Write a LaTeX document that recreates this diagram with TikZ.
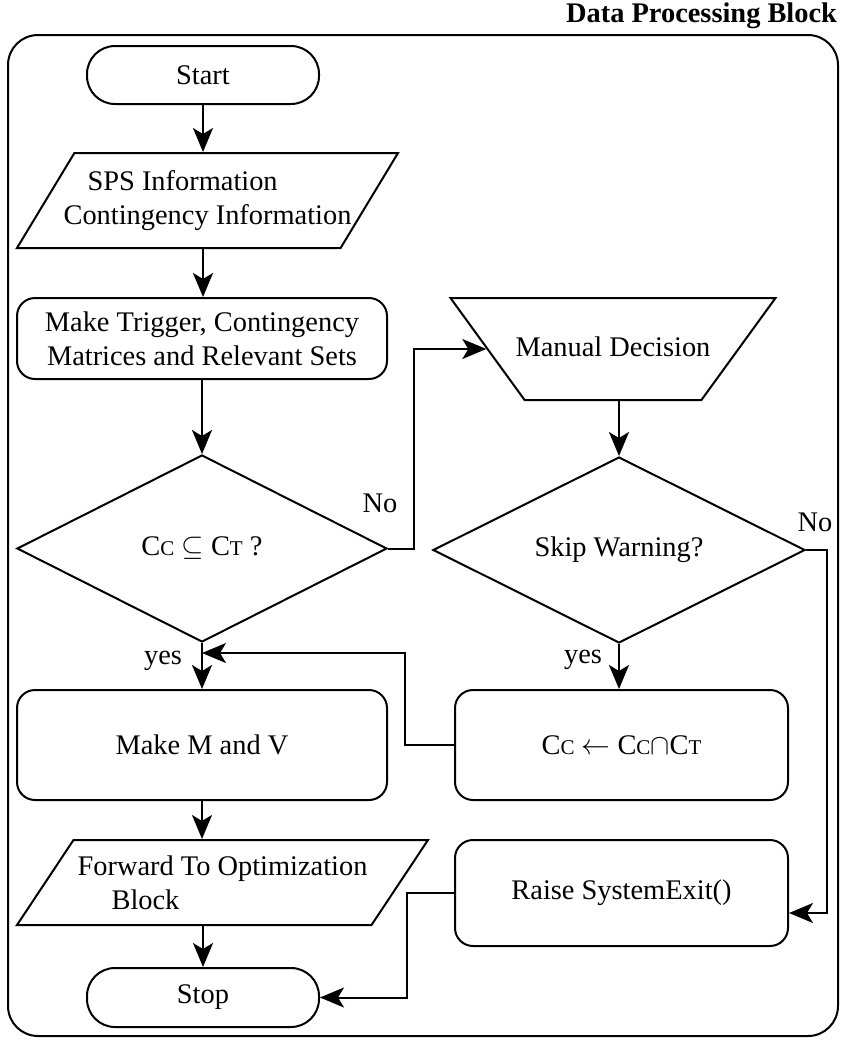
\documentclass[tikz,border=0pt]{standalone}
\usepackage{fontspec}
\setmainfont{Liberation Serif}
\usetikzlibrary{arrows.meta,positioning,shapes.geometric,calc}
\newcommand{\cset}[1]{C{\fontsize{10.5}{12}\selectfont #1}}

\begin{document}
\begin{tikzpicture}[x=0.5pt, y=-0.5pt, line width=1pt,
  every node/.style={font=\fontsize{14.2}{17}\selectfont},
  termbox/.style={draw, rounded corners=14pt, minimum width=116pt, minimum height=29pt},
  procbox/.style={draw, rounded corners=9pt, minimum width=185pt, minimum height=55pt, align=center},
  iobox/.style={draw, trapezium, trapezium stretches body=true, trapezium left angle=52, trapezium right angle=128, align=left},
  decbox/.style={draw, diamond, aspect=2, inner sep=1pt, minimum width=185pt, minimum height=93.5pt},
  arr/.style={-{Stealth[length=12pt,width=10pt,inset=3pt]}}]
  \useasboundingbox (0,0) rectangle (844,1041);

  % Block frame and title
  \draw[rounded corners=15pt] (8,35) rectangle (838,1036);
  \node[font=\fontsize{14.2}{17}\selectfont\bfseries, anchor=base east, inner sep=0pt] (title) at (838,22) {Data Processing Block};

  % Left column
  \node[termbox] (start) at (203,75) {Start};
  \node[iobox, inner xsep=-15pt, minimum width=190.5pt, minimum height=47.5pt] (info) at (207.5,200.5) {\hspace*{12pt}SPS Information\\Contingency Information};
  \node[procbox, minimum height=40.5pt] (mats) at (202,338.5) {Make Trigger, Contingency\\Matrices and Relevant Sets};
  \node[decbox] (subset) at (202,548.5) {\cset{C} $\subseteq$ \cset{T} ?};
  \node[procbox] (makemv) at (202,745) {Make M and V};
  \node[iobox, trapezium left angle=50, trapezium right angle=130, inner xsep=-13pt, minimum width=205.5pt, minimum height=42.5pt] (fwd) at (222.5,882.5) {Forward To Optimization\\\hspace*{17pt}Block};
  \node[termbox, minimum height=29.5pt] (stop) at (203,997.5) {Stop};

  % Right column
  \node[draw, trapezium, shape border rotate=180, trapezium left angle=54, trapezium right angle=54, inner xsep=-4.5pt, inner ysep=19pt, text height=10pt, text depth=3pt] (manual) at (613,349) {Manual Decision};
  \node[decbox, minimum width=186pt, minimum height=93pt] (skip) at (619,550) {Skip Warning?};
  \node[procbox, minimum width=166.5pt] (inter) at (621.5,745) {\cset{C} $\leftarrow$ \cset{C}$\cap$\cset{T}};
  \node[procbox, minimum width=166.5pt, minimum height=53pt] (raise) at (621.5,893) {Raise SystemExit()};

  % Arrows
  \draw[arr] (start.south) -- (start.south |- info.north);
  \draw[arr] (start.south |- info.south) -- (start.south |- mats.north);
  \draw[arr] (mats) -- (subset);
  \draw[arr] (subset.south) -- (makemv.north);
  \draw[arr] (makemv.south) -- (makemv.south |- fwd.north);
  \draw[arr] (stop.north |- fwd.south) -- (stop.north);
  \draw[arr] (subset.east) -- ++(26,0) |- (manual.west);
  \draw[arr] (manual.south -| skip.north) -- (skip.north);
  \draw[arr] (skip.south) -- (skip.south |- inter.north);
  \draw[arr] (skip.east) -- ++(21,0) |- ([yshift=-10pt]raise.east);
  \draw[arr] (inter.west) -- ++(-49,0) |- ([yshift=-5pt]subset.south);
  \draw[arr] (raise.west) -- ++(-47,0) |- (stop.east);

  % Labels
  \node (no1) at (380,503) {No};
  \node (no2) at (815,522) {No};
  \node (yes1) at (163,661) {yes};
  \node (yes2) at (583,660) {yes};
\end{tikzpicture}
\end{document}
